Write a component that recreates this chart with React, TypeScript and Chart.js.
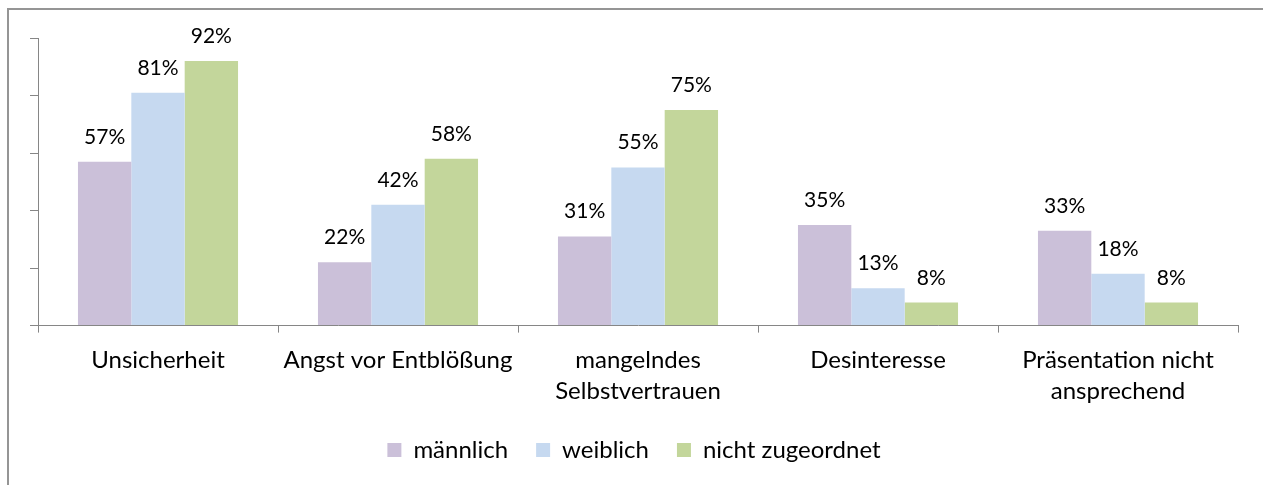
import React, { useEffect, useRef } from "react";
import { Chart, registerables } from "chart.js";

Chart.register(...registerables);

const categories: (string | string[])[] = [
  "Unsicherheit",
  "Angst vor Entblößung",
  ["mangelndes", "Selbstvertrauen"],
  "Desinteresse",
  ["Präsentation nicht", "ansprechend"],
];

const seriesNames = ["männlich", "weiblich", "nicht zugeordnet"];
const maleValues = [57, 22, 31, 35, 33];
const femaleValues = [81, 42, 55, 13, 18];
const unassignedValues = [92, 58, 75, 8, 8];
const seriesColors = ["#CBC0D9", "#C6D9F0", "#C3D69B"];
const yTicks = [0, 20, 40, 60, 80, 100];

const FONT = "Lato, 'Noto Sans', sans-serif";

const valueLabels = {
  id: "valueLabels",
  afterDatasetsDraw(chart: any) {
    const ctx = chart.ctx;
    ctx.save();
    ctx.font = `21px ${FONT}`;
    ctx.fillStyle = "#000";
    ctx.textAlign = "center";
    ctx.textBaseline = "alphabetic";
    chart.data.datasets.forEach((ds: any, i: number) => {
      chart.getDatasetMeta(i).data.forEach((bar: any, j: number) => {
        ctx.fillText(ds.data[j] + "%", bar.x, bar.y - 18);
      });
    });
    ctx.restore();
  },
};

export default function App() {
  const ref = useRef<HTMLCanvasElement>(null);

  useEffect(() => {
    if (!ref.current) return;
    const chart = new Chart(ref.current, {
      type: "bar",
      data: {
        labels: categories,
        datasets: [maleValues, femaleValues, unassignedValues].map((d, i) => ({
          label: seriesNames[i],
          data: d,
          backgroundColor: seriesColors[i],
          borderWidth: 0,
          categoryPercentage: 0.667,
          barPercentage: 1,
        })),
      },
      options: {
        animation: false,
        responsive: false,
        layout: { padding: { left: 30, right: 25, top: 38, bottom: 13 } },
        plugins: {
          tooltip: { enabled: false },
          legend: {
            position: "bottom",
            labels: {
              boxWidth: 14,
              boxHeight: 14,
              padding: 28,
              color: "#000",
              font: { family: FONT, size: 24 },
            },
          },
        },
        scales: {
          x: {
            afterFit: (scale: any) => {
              scale.height -= 9;
            },
            grid: {
              display: true,
              drawOnChartArea: false,
              drawTicks: true,
              tickLength: 7,
              offset: true,
              color: "#868686",
            },
            border: { color: "#868686", width: 1 },
            ticks: {
              color: "#000",
              font: { family: FONT, size: 24, lineHeight: 1.3 },
              padding: 12,
              maxRotation: 0,
              autoSkip: false,
            },
          },
          y: {
            min: 0,
            max: 100,
            afterBuildTicks: (scale: any) => {
              scale.ticks = yTicks.map((v) => ({ value: v }));
            },
            grid: {
              display: true,
              drawOnChartArea: false,
              drawTicks: true,
              tickLength: 8,
              color: "#868686",
            },
            border: { color: "#868686", width: 1 },
            ticks: { display: false },
          },
        },
      },
      plugins: [valueLabels],
    });
    return () => chart.destroy();
  }, []);

  return (
    <div>
      <div
        style={{
          position: "fixed",
          left: 7,
          top: 8,
          width: 3000,
          height: 3000,
          borderTop: "2px solid #959595",
          borderLeft: "2px solid #959595",
        }}
      />
      <canvas
        ref={ref}
        width={1263}
        height={485}
        style={{ position: "fixed", left: 0, top: 0, width: 1263, height: 485 }}
      />
    </div>
  );
}
